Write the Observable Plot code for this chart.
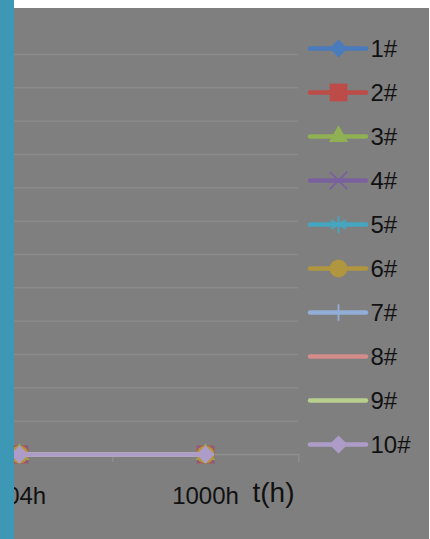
<!DOCTYPE html>
<html><head><meta charset="utf-8">
<script src="https://cdn.jsdelivr.net/npm/d3@7"></script>
<script src="https://cdn.jsdelivr.net/npm/@observablehq/plot@0.6"></script>
<style>
html,body{margin:0;padding:0;background:#fff;}
#wrap{position:relative;width:430px;height:539px;overflow:hidden;font-family:"Liberation Sans",Arial,sans-serif;}
#bg{position:absolute;left:0;top:8px;width:429px;height:531px;background:#7f7f7f;}
#chart{position:absolute;left:0;top:8px;}
#legend{position:absolute;left:300px;top:0;}
#strip{position:absolute;left:0;top:0;width:14px;height:539px;background:#3d98b5;}
svg{display:block;overflow:visible;}
</style></head><body>
<div id="wrap"><div id="bg"></div><div id="chart"></div><div id="legend"></div><div id="strip"></div></div>
<script>
// ---- data ----
const categories = ["504h", "1000h"];
const seriesNames = ["1#", "2#", "3#", "4#", "5#", "6#", "7#", "8#", "9#", "10#"];
const s1 = [0, 0];
const s2 = [0, 0];
const s3 = [0, 0];
const s4 = [0, 0];
const s5 = [0, 0];
const s6 = [0, 0];
const s7 = [0, 0];
const s8 = [0, 0];
const s9 = [0, 0];
const s10 = [0, 0];
const yTicks = [0, 1, 2, 3, 4, 5, 6, 7, 8, 9, 10, 11, 12];
const axisTitle = "t(h)";

// ---- styles ----
const seriesValues = [s1, s2, s3, s4, s5, s6, s7, s8, s9, s10];
const seriesColors = ["#4a7bbd", "#bd4b48", "#8fb153", "#7a619e", "#45a6c0", "#b0963f", "#93aed6", "#d48c8a", "#b8d08e", "#ae9cc8"];
const seriesSymbols = ["diamond2", "square", "triangle2", "times", "asterisk", "circle", "plus", null, null, "diamond2"];
const symbolR = {diamond2: 8.2, square: 10, triangle2: 9.3, times: 7.8, asterisk: 8.3, circle: 9, plus: 5.4};
const strokeSymbols = new Set(["times", "asterisk", "plus"]);

const rows = seriesNames.flatMap((s, i) => categories.map((c, j) => ({series: s, t: c, v: seriesValues[i][j]})));

function seriesMarks(i, xf, yf, data) {
  const sym = seriesSymbols[i];
  const col = seriesColors[i];
  const out = [];
  if (sym) {
    const isStroke = strokeSymbols.has(sym);
    out.push(Plot.dot(data, {x: xf, y: yf, symbol: () => sym, r: symbolR[sym],
      fill: isStroke ? "none" : col, stroke: isStroke ? col : "none", strokeWidth: isStroke ? 1.8 : 0}));
  }
  return out;
}

const step = 186.7;
const mainMarks = [
  Plot.gridY(yTicks.slice(1), {stroke: "#8a8a8a", strokeOpacity: 1, strokeWidth: 1.5}),
  Plot.ruleY([yTicks[0]], {stroke: "#8e8e8e", strokeWidth: 1.5}),
  Plot.axisX({tickSize: 8, dx: step / 2, tickFormat: () => "", stroke: "#8e8e8e", strokeWidth: 1.5, label: null}),
  Plot.axisX({tickSize: 0, tickPadding: 32, fontSize: 24, fill: "#111", label: null}),
  Plot.text([axisTitle], {frameAnchor: "bottom-right", textAnchor: "end", dx: -4, dy: 47, fontSize: 28, fill: "#111", lineAnchor: "bottom"})
];
seriesNames.forEach((s, i) => {
  const data = rows.filter(r => r.series === s);
  mainMarks.push(Plot.line(data, {x: "t", y: "v", stroke: seriesColors[i], strokeWidth: 4.5, strokeLinecap: "round", strokeLinejoin: "round"}));
  mainMarks.push(...seriesMarks(i, "t", "v", data));
});

const chart = Plot.plot({
  width: 430, height: 531,
  marginLeft: 0, marginRight: 132, marginTop: 46, marginBottom: 85,
  style: {background: "transparent", fontFamily: "Liberation Sans, Arial, sans-serif", overflow: "visible"},
  x: {type: "point", domain: categories, range: [-75, 298], padding: 0.5},
  y: {domain: [yTicks[0], yTicks[yTicks.length - 1]], range: [446, 46], axis: null},
  marks: mainMarks
});
document.getElementById("chart").appendChild(chart);

// ---- legend ----
const legendMarks = [];
seriesNames.forEach((s, i) => {
  legendMarks.push(Plot.ruleY([s], {y: d => d, x1: () => 0, x2: () => 1, stroke: seriesColors[i], strokeWidth: 4.5, strokeLinecap: "round"}));
  legendMarks.push(...seriesMarks(i, () => 0.5, d => d, [s]));
});
legendMarks.push(Plot.text(seriesNames, {x: () => 1, y: d => d, text: d => d, dx: 4, dy: 1, textAnchor: "start", fontSize: 24, fill: "#111"}));
const legend = Plot.plot({
  width: 130, height: 539,
  margin: 0,
  style: {background: "transparent", fontFamily: "Liberation Sans, Arial, sans-serif", overflow: "visible"},
  x: {domain: [0, 1], range: [10, 66], axis: null},
  y: {type: "point", domain: seriesNames, range: [45, 447], padding: 0, axis: null},
  marks: legendMarks
});
document.getElementById("legend").appendChild(legend);
</script>
</body></html>
